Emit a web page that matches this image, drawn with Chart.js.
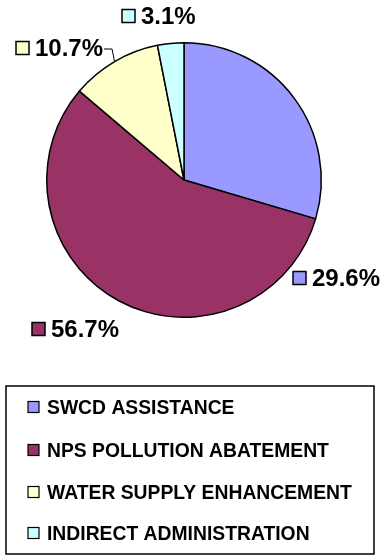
<!DOCTYPE html>
<html>
<head>
<meta charset="utf-8">
<script src="https://cdn.jsdelivr.net/npm/chart.js@4.4.1/dist/chart.umd.min.js"></script>
<style>
  html, body { margin: 0; padding: 0; background: #fff; }
  #wrap { width: 383px; height: 557px; position: relative; }
</style>
</head>
<body>
<div id="wrap"><canvas id="myChart"></canvas></div>
<script>
  const categories = ["SWCD ASSISTANCE", "NPS POLLUTION ABATEMENT", "WATER SUPPLY ENHANCEMENT", "INDIRECT ADMINISTRATION"];
  const shares = [29.6, 56.7, 10.7, 3.1];
  const colors = ["#9999FF", "#993366", "#FFFFCC", "#CCFFFF"];

  // where each percent label sits (left of its square, middle), in px from pie centre
  const labelSpots = [[109, 98], [-152, 149], [-168, -132], [-62, -164]];
  const leaderLines = [false, false, true, false];

  const labelFont = "bold 24px 'Liberation Sans', Arial, sans-serif";
  const legendFont = "bold 21px 'Liberation Sans', Arial, sans-serif";

  const pctLabels = {
    id: "pctLabels",
    afterDatasetsDraw(chart) {
      const c = chart.ctx;
      const meta = chart.getDatasetMeta(0);
      c.save();
      c.font = labelFont;
      c.textBaseline = "middle";
      meta.data.forEach(function (arc, i) {
        const p = arc.getProps(["x", "y", "startAngle", "endAngle", "outerRadius"], true);
        const lx = p.x + labelSpots[i][0];
        const ly = p.y + labelSpots[i][1];
        const txt = shares[i].toFixed(1) + "%";
        c.fillStyle = colors[i];
        c.fillRect(lx, ly - 6.5, 13, 13);
        c.strokeStyle = "#000";
        c.lineWidth = 1.5;
        c.strokeRect(lx, ly - 6.5, 13, 13);
        c.fillStyle = "#000";
        c.fillText(txt, lx + 19, ly + 1);
        if (leaderLines[i]) {
          const tw = c.measureText(txt).width;
          const mid = (p.startAngle + p.endAngle) / 2;
          const ex = p.x + Math.cos(mid) * p.outerRadius;
          const ey = p.y + Math.sin(mid) * p.outerRadius;
          c.lineWidth = 1;
          c.beginPath();
          c.moveTo(lx + 19 + tw + 1, ly + 1);
          c.lineTo(lx + 19 + tw + 9, ly + 1);
          c.lineTo(ex, ey);
          c.stroke();
        }
      });
      c.restore();
    }
  };

  const boxLegend = {
    id: "boxLegend",
    afterDraw(chart) {
      const c = chart.ctx;
      c.save();
      c.strokeStyle = "#000";
      c.lineWidth = 1.5;
      c.strokeRect(6, 386, 368, 168);
      c.font = legendFont;
      c.textBaseline = "middle";
      const rowY = [407, 450, 492, 533];
      categories.forEach(function (name, i) {
        c.fillStyle = colors[i];
        c.fillRect(28, rowY[i] - 5.5, 11, 11);
        c.lineWidth = 1.2;
        c.strokeRect(28, rowY[i] - 5.5, 11, 11);
        c.fillStyle = "#000";
        // reference legend type is a little condensed
        c.save();
        c.translate(47, rowY[i] + 1);
        c.scale(0.92, 1);
        c.fillText(name, 0, 0);
        c.restore();
      });
      c.restore();
    }
  };

  const ctx = document.getElementById("myChart");

  new Chart(ctx, {
    type: "pie",
    data: {
      labels: categories,
      datasets: [
        {
          data: shares,
          backgroundColor: colors,
          borderColor: "#000",
          borderWidth: 1.5
        }
      ]
    },
    options: {
      responsive: true,
      maintainAspectRatio: false,
      animation: false,
      layout: {
        padding: { left: 46, right: 61, top: 42, bottom: 239 }
      },
      plugins: {
        legend: { display: false },
        tooltip: { enabled: false }
      }
    },
    plugins: [pctLabels, boxLegend]
  });
</script>
</body>
</html>
